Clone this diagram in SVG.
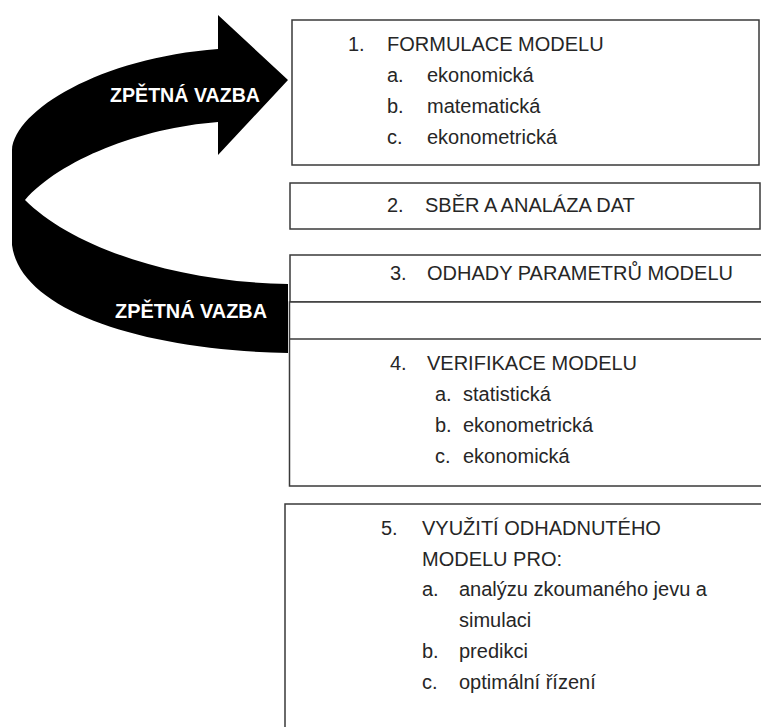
<svg xmlns="http://www.w3.org/2000/svg" width="761" height="727" viewBox="0 0 761 727">
<style>
.box{fill:#fff;stroke:#3a3a3a;stroke-width:1.5}
.ln{stroke:#3a3a3a;stroke-width:1.5;fill:none}
.t{font-family:"Liberation Sans",Arial,sans-serif;font-size:20px;fill:#262626}
.fb{font-family:"Liberation Sans",Arial,sans-serif;font-size:19.5px;font-weight:bold;fill:#fff}
.rib{fill:#000}
</style>
<rect width="761" height="727" fill="#fff"/>
<g id="connectors">
<path class="rib" d="M218,49 L218,15 L288,80 L218,155 L218,122 C140,128 60,160 25,200 C70,245 170,282 288,284 L288,353 C140,350 20,310 12,245 L12,150 C15,110 100,58 218,49 Z"/>
<text class="fb" x="110" y="102" textLength="150" lengthAdjust="spacingAndGlyphs">ZPĚTNÁ VAZBA</text>
<text class="fb" x="115" y="318" textLength="152" lengthAdjust="spacingAndGlyphs">ZPĚTNÁ VAZBA</text>
</g>
<g id="node1">
<rect class="box" x="292" y="20" width="467" height="145"/>
<text class="t" x="348" y="51">1.</text><text class="t" x="387" y="51">FORMULACE MODELU</text>
<text class="t" x="387" y="82">a.</text><text class="t" x="427" y="82">ekonomická</text>
<text class="t" x="387" y="113">b.</text><text class="t" x="427" y="113">matematická</text>
<text class="t" x="387" y="144">c.</text><text class="t" x="427" y="144">ekonometrická</text>
</g>
<g id="node2">
<rect class="box" x="290" y="183" width="470" height="46"/>
<text class="t" x="387" y="212">2.</text><text class="t" x="425" y="212">SBĚR A ANALÁZA DAT</text>
</g>
<g id="node3">
<rect class="box" x="290" y="255" width="480" height="47"/>
<text class="t" x="390" y="280">3.</text><text class="t" x="427" y="280">ODHADY PARAMETRŮ MODELU</text>
</g>
<g id="node4">
<rect class="box" x="289.5" y="302" width="480" height="184"/>
<line class="ln" x1="289.5" y1="339" x2="770" y2="339"/>
<text class="t" x="390" y="370">4.</text><text class="t" x="427" y="370">VERIFIKACE MODELU</text>
<text class="t" x="435" y="401">a.</text><text class="t" x="463" y="401">statistická</text>
<text class="t" x="435" y="432">b.</text><text class="t" x="463" y="432">ekonometrická</text>
<text class="t" x="435" y="463">c.</text><text class="t" x="463" y="463">ekonomická</text>
</g>
<g id="node5">
<rect class="box" x="285" y="504" width="490" height="240"/>
<text class="t" x="381" y="535">5.</text><text class="t" x="422" y="535">VYUŽITÍ ODHADNUTÉHO</text>
<text class="t" x="422" y="566">MODELU PRO:</text>
<text class="t" x="422" y="596">a.</text><text class="t" x="459" y="596">analýzu zkoumaného jevu a</text>
<text class="t" x="459" y="627">simulaci</text>
<text class="t" x="422" y="658">b.</text><text class="t" x="459" y="658">predikci</text>
<text class="t" x="422" y="689">c.</text><text class="t" x="459" y="689">optimální řízení</text>
</g>
</svg>
